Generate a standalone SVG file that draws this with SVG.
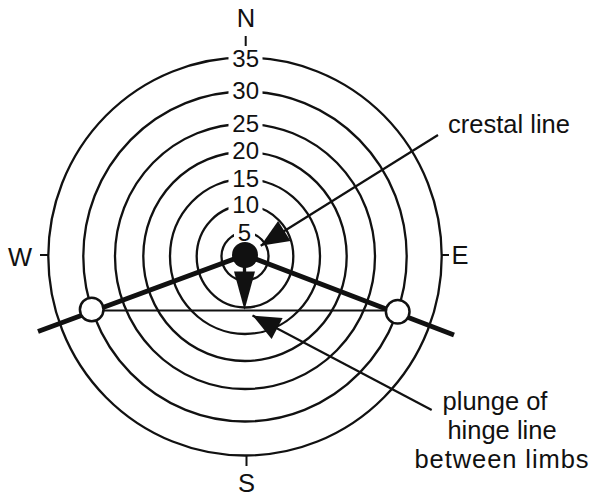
<svg xmlns="http://www.w3.org/2000/svg" width="598" height="497" viewBox="0 0 598 497">
<style>
.ring{fill:none;stroke:#111;stroke-width:2.3}
.lbl{font-family:"Liberation Sans",Arial,sans-serif;font-size:24px;fill:#111;text-anchor:middle}
.big{font-size:25.5px}
.bg{fill:#fff}
.tick{stroke:#111;stroke-width:2}
.ptr{stroke:#111;stroke-width:2.2;fill:none}
</style>
<defs>
<marker id="ah" markerUnits="userSpaceOnUse" markerWidth="30" markerHeight="26" viewBox="-27 -12 28 24" refX="0" refY="0" orient="auto">
<path d="M0,0 L-26,-11 L-26,11 z" fill="#111"/>
</marker>
</defs>
<rect width="598" height="497" fill="#fff"/>
<g id="net">
<ellipse class="ring" cx="245" cy="256.5" rx="196.7" ry="199"/>
<ellipse class="ring" cx="245" cy="256.5" rx="161.7" ry="165"/>
<ellipse class="ring" cx="245" cy="256.5" rx="130" ry="132.5"/>
<ellipse class="ring" cx="245" cy="256.5" rx="101.7" ry="104.5"/>
<ellipse class="ring" cx="245" cy="256.5" rx="75" ry="77.5"/>
<ellipse class="ring" cx="245" cy="256.5" rx="48.3" ry="51"/>
<ellipse class="ring" cx="245" cy="256.5" rx="23.5" ry="24"/>
<line class="tick" x1="245.7" y1="36" x2="245.7" y2="58"/>
<line class="tick" x1="40" y1="255" x2="49" y2="255"/>
<line class="tick" x1="441" y1="255" x2="449" y2="255"/>
<line class="tick" x1="246.5" y1="455" x2="246.5" y2="466"/>
</g>
<g id="ring-labels">
<rect class="bg" x="228.5" y="46" width="34" height="24"/>
<text class="lbl" x="245.7" y="66.5">35</text>
<rect class="bg" x="228.5" y="78" width="34" height="24"/>
<text class="lbl" x="245.7" y="98.5">30</text>
<rect class="bg" x="228.5" y="111" width="34" height="24"/>
<text class="lbl" x="245.7" y="131.5">25</text>
<rect class="bg" x="228.5" y="138" width="34" height="24"/>
<text class="lbl" x="245.7" y="158.5">20</text>
<rect class="bg" x="228.5" y="166" width="34" height="24"/>
<text class="lbl" x="245.7" y="186.5">15</text>
<rect class="bg" x="228.5" y="192" width="34" height="24"/>
<text class="lbl" x="245.7" y="212.5">10</text>
<rect class="bg" x="234" y="221" width="21" height="22"/>
<text class="lbl" x="244.5" y="240.5">5</text>
</g>
<g id="compass">
<text class="lbl big" x="246" y="27">N</text>
<text class="lbl big" x="20" y="266">W</text>
<text class="lbl big" x="460" y="264">E</text>
<text class="lbl big" x="246.5" y="491.5">S</text>
</g>
<g id="connectors">
<line x1="91.7" y1="310.5" x2="397.7" y2="310.5" stroke="#111" stroke-width="2"/>
<polyline points="38,331.5 245,255 454,335" fill="none" stroke="#111" stroke-width="5"/>
<line x1="244.5" y1="256" x2="244.5" y2="274" stroke="#111" stroke-width="3.3"/>
<polygon points="234,271.5 255,271.5 244.5,310" fill="#111"/>
<line class="ptr" x1="438" y1="135" x2="260.7" y2="245.7" marker-end="url(#ah)"/>
<line class="ptr" x1="431.7" y1="410" x2="252.5" y2="315.5" marker-end="url(#ah)"/>
</g>
<g id="crest-point">
<circle cx="245" cy="255" r="13" fill="#111"/>
</g>
<g id="limb-left">
<circle cx="91.7" cy="309.5" r="11.8" fill="#fff" stroke="#111" stroke-width="2.5"/>
</g>
<g id="limb-right">
<circle cx="397.7" cy="311.7" r="11.8" fill="#fff" stroke="#111" stroke-width="2.5"/>
</g>
<g id="label-crestal">
<text class="lbl big" x="509" y="133">crestal line</text>
</g>
<g id="label-plunge">
<text class="lbl big" x="495" y="410">plunge of</text>
<text class="lbl big" x="502" y="439">hinge line</text>
<text class="lbl big" x="501.5" y="468" textLength="174" lengthAdjust="spacing">between limbs</text>
</g>
</svg>
